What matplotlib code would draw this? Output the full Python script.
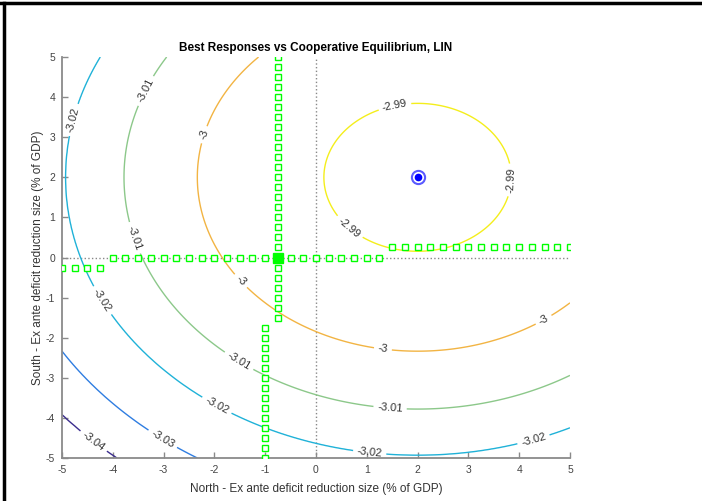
import numpy as np
import matplotlib
matplotlib.use("Agg")
import matplotlib.pyplot as plt
from matplotlib.lines import Line2D

plt.rcParams['font.family'] = ['Liberation Sans', 'DejaVu Sans']
plt.rcParams['axes.unicode_minus'] = False

# cooperative equilibrium (peak of the welfare surface)
coop_x, coop_y = 2.0, 2.0

# contour levels and their squared distance from the peak
levels = [-3.04, -3.03, -3.02, -3.01, -3.00, -2.99]
level_r2 = [84.0, 67.8, 48.0, 33.4, 18.8, 3.4]
peak_value = -2.9877

# best response of South (y) to North's choice (x)
south_br_x = [-5, -4.75, -4.5, -4.25,
              -4, -3.75, -3.5, -3.25, -3, -2.75, -2.5, -2.25, -2, -1.75, -1.5,
              -1.25, -1, -0.75, -0.5, -0.25, 0, 0.25, 0.5, 0.75, 1, 1.25,
              1.5, 1.75, 2, 2.25, 2.5, 2.75, 3, 3.25, 3.5, 3.75, 4, 4.25, 4.5, 4.75, 5]
south_br_y = [-0.25] * 4 + [0.0] * 22 + [0.25] * 15

# best response of North (x) to South's choice (y)
north_br_y = list(np.arange(-5, 5.01, 0.25))
north_br_x = [-1.0] * 14 + [-0.75] * 27

# Nash equilibrium
nash_x, nash_y = -0.75, 0.0

colors = ['#3b2d8e', '#2f7de1', '#20b2d8', '#8cc88a', '#f2b443', '#f4ee1c']

# label spots (layout only)
label_pos = [(1.56, 3.73), (3.88, 1.93), (0.65, 0.74),
             (-2.17, 3.05), (-1.63, -0.76), (1.32, -2.26), (4.45, -1.48),
             (-3.39, 4.18), (-3.80, 0.39), (-1.65, -2.86), (1.46, -3.73),
             (-4.70, 3.40), (-4.49, -1.31), (-2.09, -3.98), (1.06, -4.83), (4.25, -4.38),
             (-3.03, -4.55), (-4.39, -4.6)]

gx = np.linspace(-5, 5, 401)
gy = np.linspace(-5, 5, 401)
X, Y = np.meshgrid(gx, gy)
R2 = (X - coop_x) ** 2 + (Y - coop_y) ** 2
Z = np.interp(R2, [0.0] + level_r2[::-1] + [300.0],
              [peak_value] + levels[::-1] + [-3.12])

fig = plt.figure(figsize=(7.02, 5.01), dpi=100)
ax = fig.add_axes([0.0883, 0.0858, 0.7236, 0.8004])

cs = ax.contour(X, Y, Z, levels=levels, colors=colors, linewidths=1.0)
lbls = ax.clabel(cs, fmt=lambda v: f"{v:g}", fontsize=8, inline=True,
                 inline_spacing=4, manual=label_pos)
for t in lbls:
    t.set_color('#333333')

ax.axvline(0, color='#888888', ls=':', lw=1.0, zorder=1)
ax.axhline(0, color='#888888', ls=':', lw=1.0, zorder=1)

ax.plot(south_br_x, south_br_y, ls='none', marker='s', ms=4.3,
        mfc='white', mec='#00ff00', mew=1.0, zorder=3)
ax.plot(north_br_x, north_br_y, ls='none', marker='s', ms=4.3,
        mfc='white', mec='#00ff00', mew=1.0, zorder=3)
ax.plot(nash_x, nash_y, ls='none', marker='s', ms=6.5,
        mfc='#00ff00', mec='#00ff00', zorder=4)

ax.plot(coop_x, coop_y, ls='none', marker='o', ms=9.5, mfc='white',
        mec='#5a5aff', mew=1.5, zorder=5)
ax.plot(coop_x, coop_y, ls='none', marker='o', ms=4.5, mfc='#0000ff',
        mec='#0000ff', zorder=6)

ax.set_xlim(-5, 5)
ax.set_ylim(-5, 5)
ax.set_xticks(range(-5, 6))
ax.set_yticks(range(-5, 6))
ax.spines['top'].set_visible(False)
ax.spines['right'].set_visible(False)
for s in ['left', 'bottom']:
    ax.spines[s].set_color('#8a8a8a')
    ax.spines[s].set_linewidth(1.3)
ax.tick_params(direction='in', length=4, width=1, colors='#8a8a8a',
               labelcolor='#444444', labelsize=7.5, pad=5)

ax.set_title('Best Responses vs Cooperative Equilibrium, LIN',
             fontsize=8.5, fontweight='bold', pad=4)
ax.set_xlabel('North - Ex ante deficit reduction size (% of GDP)',
              fontsize=8.5, color='#333333', labelpad=6)
ax.set_ylabel('South - Ex ante deficit reduction size (% of GDP)',
              fontsize=8.5, color='#333333', labelpad=1)

# black frame on top and left of the window
fig.add_artist(Line2D([0.006, 0.006], [0.0, 0.994], color='black', lw=2.5,
                      transform=fig.transFigure))
fig.add_artist(Line2D([0.0, 1.0], [0.994, 0.994], color='black', lw=2.5,
                      transform=fig.transFigure))

fig.savefig('out.png', dpi=100)
